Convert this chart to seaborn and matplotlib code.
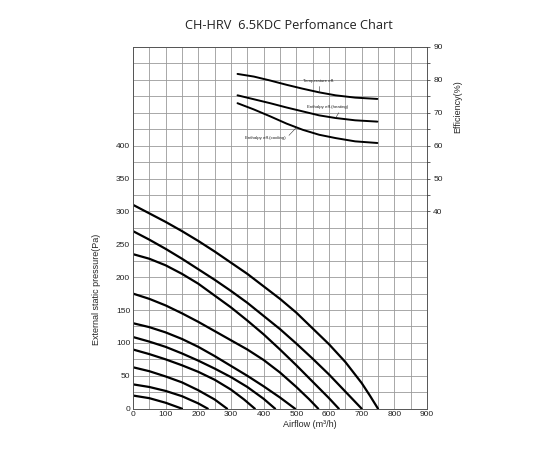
import numpy as np
import matplotlib
matplotlib.use("Agg")
import matplotlib.pyplot as plt
import seaborn as sns

# fan curves, airflow (m3/h) vs external static pressure (Pa), one pair per speed step
flow_1 = [0, 50, 100, 150]
pa_1 = [20, 16, 9, 0]
flow_2 = [0, 50, 100, 150, 200, 229]
pa_2 = [37, 33, 27, 19, 8, 0]
flow_3 = [0, 50, 100, 150, 200, 250, 288]
pa_3 = [63, 57, 49, 40, 28, 14, 0]
flow_4 = [0, 50, 100, 150, 200, 250, 300, 340, 373]
pa_4 = [90, 83, 75, 66, 56, 44, 29, 14, 0]
flow_5 = [0, 50, 100, 150, 200, 250, 300, 350, 400, 435]
pa_5 = [109, 102, 94, 84, 73, 61, 48, 33, 15, 0]
flow_6 = [0, 50, 100, 150, 200, 250, 300, 350, 400, 450, 496]
pa_6 = [130, 124, 116, 106, 94, 80, 65, 50, 34, 17, 0]
flow_7 = [0, 50, 100, 150, 200, 250, 300, 350, 400, 450, 500, 540, 567]
pa_7 = [175, 167, 157, 145, 132, 118, 104, 90, 74, 55, 33, 14, 0]
flow_8 = [0, 50, 100, 150, 200, 250, 300, 350, 400, 450, 500, 550, 600, 630]
pa_8 = [235, 228, 218, 205, 190, 172, 154, 134, 113, 90, 66, 41, 16, 0]
flow_9 = [0, 50, 100, 150, 200, 250, 300, 350, 400, 450, 500, 550, 600, 650, 700]
pa_9 = [270, 257, 243, 228, 212, 196, 179, 161, 141, 121, 99, 76, 52, 26, 0]
flow_10 = [0, 50, 100, 150, 200, 250, 300, 350, 400, 450, 500, 550, 600, 650, 700, 725, 750]
pa_10 = [310, 297, 284, 270, 255, 239, 222, 205, 186, 167, 146, 122, 98, 71, 39, 20, 0]

# efficiency curves (%)
eff_flow = [320, 370, 420, 470, 520, 570, 620, 680, 748]
temp_eff = [81.8, 81.0, 79.8, 78.5, 77.3, 76.2, 75.3, 74.6, 74.2]
heat_eff = [75.3, 74.1, 72.9, 71.6, 70.4, 69.2, 68.4, 67.7, 67.3]
cool_eff = [72.9, 71.0, 68.9, 66.7, 64.8, 63.3, 62.3, 61.3, 60.8]

sns.set_theme(style="white")
plt.rcParams['font.family'] = ['Liberation Sans', 'DejaVu Sans']

fig = plt.figure(figsize=(5.5, 4.5), dpi=100)
ax = fig.add_axes([0.2418, 0.0918, 0.5346, 0.8038])

curves = [(flow_1, pa_1), (flow_2, pa_2), (flow_3, pa_3), (flow_4, pa_4), (flow_5, pa_5),
          (flow_6, pa_6), (flow_7, pa_7), (flow_8, pa_8), (flow_9, pa_9), (flow_10, pa_10)]
for fq, fp in curves:
    sns.lineplot(x=fq, y=fp, ax=ax, color="black", linewidth=1.6, sort=False, estimator=None)

ax.set_xlim(0, 900)
ax.set_ylim(0, 550)
ax.set_xticks(np.arange(0, 901, 100))
ax.set_xticks(np.arange(0, 901, 50), minor=True)
ax.set_yticks(np.arange(0, 401, 50))
ax.set_yticks(np.arange(0, 551, 25), minor=True)
ax.grid(which="both", color="#9a9a9a", linewidth=0.6)
ax.set_axisbelow(True)
ax.tick_params(which="major", labelsize=6, length=0, pad=2, colors="#222222")
ax.tick_params(which="minor", length=0)
for s in ax.spines.values():
    s.set_color("#555555")
    s.set_linewidth(0.7)

ax.set_xlabel("Airflow (m³/h)", fontsize=6.5)
ax.xaxis.set_label_coords(0.60, -0.032)
ax.set_ylabel("External static pressure(Pa)", fontsize=6.5)
ax.yaxis.set_label_coords(-0.11, 0.33)

ax2 = ax.twinx()
for ev in (temp_eff, heat_eff, cool_eff):
    sns.lineplot(x=eff_flow, y=ev, ax=ax2, color="black", linewidth=1.4, sort=False, estimator=None)
ax2.set_ylim(-20, 90)
ax2.set_yticks(np.arange(40, 91, 10))
ax2.set_yticks(np.arange(40, 91, 5), minor=True)
ax2.tick_params(which="major", labelsize=6, length=2.5, width=0.5, pad=2, colors="#222222")
ax2.tick_params(which="minor", length=2.5, width=0.5, color="#222222")
ax2.grid(False)
for s in ax2.spines.values():
    s.set_visible(False)
ax2.set_ylabel("Efficiency(%)", fontsize=6.5)
ax2.yaxis.set_label_coords(1.088, 0.834)

lbl = dict(fontsize=3.2, color="#222222", ha="left", va="center")
arr = dict(arrowstyle="-", lw=0.4, color="#333333", shrinkA=0, shrinkB=0)
ax2.annotate("Temperature eff.", xy=(eff_flow[5], temp_eff[5]), xytext=(520, 79.6),
             arrowprops=dict(arr, relpos=(0.55, 0)), **lbl)
ax2.annotate("Enthalpy eff.(heating)", xy=(eff_flow[6], heat_eff[6]), xytext=(533, 71.6),
             arrowprops=dict(arr, relpos=(0.82, 0)), **lbl)
ax2.annotate("Enthalpy eff.(cooling)", xy=(500, 65.5), xytext=(343, 62.3),
             arrowprops=dict(arr, relpos=(1, 0.3)), **lbl)

fig.text(0.525, 0.944, "CH-HRV  6.5KDC Perfomance Chart", ha="center", va="center",
         fontsize=9.2, family=["Open Sans", "DejaVu Sans"], color="#222222")

fig.savefig("out.png", dpi=100)
